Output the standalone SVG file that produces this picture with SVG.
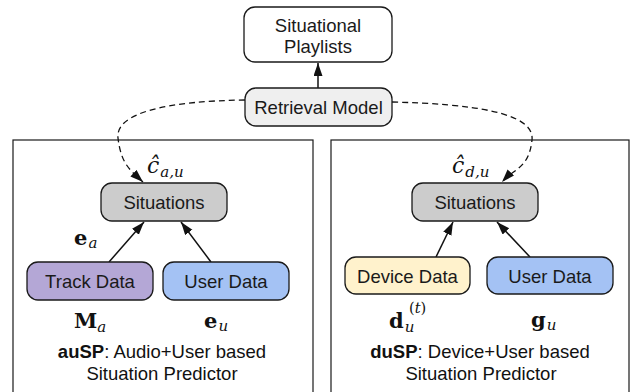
<svg xmlns="http://www.w3.org/2000/svg" width="630" height="392" viewBox="0 0 630 392">
<style>
.box{stroke:#1a1a1a;stroke-width:1.3}
.panel{fill:none;stroke:#1a1a1a;stroke-width:1.2}
.lbl{font-family:"Liberation Sans",Arial,sans-serif;font-size:18.5px;fill:#1a1a1a;text-anchor:middle}
.cap{font-family:"Liberation Sans",Arial,sans-serif;font-size:18.5px;fill:#111;text-anchor:middle}
.m{font-family:"DejaVu Serif","Liberation Serif",serif;fill:#111}
.mb{font-weight:bold;font-size:21px}
.mi{font-style:italic;font-size:22px}
.sub{font-style:italic;font-size:15px}
.sup{font-size:14.5px}
.conn{fill:none;stroke:#111;stroke-width:1.5}
.dash{fill:none;stroke:#111;stroke-width:1.3;stroke-dasharray:6 4}
</style>
<defs>
<marker id="ah" markerUnits="userSpaceOnUse" markerWidth="14" markerHeight="10" refX="13" refY="4.5" orient="auto">
<path d="M0,0 L13,4.5 L0,9 z" fill="#111"/>
</marker>
</defs>
<g id="panel-ausp">
<rect class="panel" x="13" y="140" width="300" height="260"/>
<text class="cap" x="162" y="358"><tspan font-weight="bold">auSP</tspan>: Audio+User based</text>
<text class="cap" x="162" y="380">Situation Predictor</text>
</g>
<g id="panel-dusp">
<rect class="panel" x="331" y="140" width="298" height="260"/>
<text class="cap" x="480" y="358"><tspan font-weight="bold">duSP</tspan>: Device+User based</text>
<text class="cap" x="481" y="380">Situation Predictor</text>
</g>
<g id="connectors">
<line class="conn" x1="318" y1="88" x2="318" y2="63" marker-end="url(#ah)"/>
<path class="dash" d="M245,100 C170,101 115,112 118,138 S130,170 143,182" marker-end="url(#ah)"/>
<path class="dash" d="M392,102 C470,104 535,112 532,140 S515,168 502,182" marker-end="url(#ah)"/>
<line class="conn" x1="109" y1="262" x2="144" y2="222" marker-end="url(#ah)"/>
<line class="conn" x1="211" y1="262" x2="181" y2="222" marker-end="url(#ah)"/>
<line class="conn" x1="436" y1="257" x2="453" y2="222" marker-end="url(#ah)"/>
<line class="conn" x1="530" y1="257" x2="497" y2="222" marker-end="url(#ah)"/>
</g>
<g id="playlists">
<rect class="box" x="244" y="7" width="148" height="55" rx="11" fill="#ffffff"/>
<text class="lbl" x="318" y="31.5">Situational</text>
<text class="lbl" x="318" y="53">Playlists</text>
</g>
<g id="retrieval">
<rect class="box" x="245" y="88" width="147" height="38" rx="11" fill="#efefef"/>
<text class="lbl" x="318.5" y="113.5">Retrieval Model</text>
</g>
<g id="situations-a">
<rect class="box" x="101" y="183" width="126" height="38" rx="11" fill="#cccccc"/>
<text class="lbl" x="164" y="208.5">Situations</text>
<text class="m" x="147" y="173"><tspan class="mi">ĉ</tspan><tspan class="sub" dy="4" dx="1">a,u</tspan></text>
</g>
<g id="track-data">
<rect class="box" x="27" y="262" width="126" height="38" rx="11" fill="#b4a7d6"/>
<text class="lbl" x="90" y="287.5">Track Data</text>
<text class="m" x="74" y="245"><tspan class="mb">e</tspan><tspan class="sub" dy="3" dx="1">a</tspan></text>
<text class="m" x="74" y="328"><tspan class="mb">M</tspan><tspan class="sub" dy="4">a</tspan></text>
</g>
<g id="user-data-a">
<rect class="box" x="163" y="262" width="126" height="38" rx="11" fill="#a4c2f4"/>
<text class="lbl" x="226" y="287.5">User Data</text>
<text class="m" x="204" y="328"><tspan class="mb">e</tspan><tspan class="sub" dy="3" dx="1">u</tspan></text>
</g>
<g id="situations-d">
<rect class="box" x="412" y="183" width="126" height="38" rx="11" fill="#cccccc"/>
<text class="lbl" x="475" y="208.5">Situations</text>
<text class="m" x="452" y="173"><tspan class="mi">ĉ</tspan><tspan class="sub" dy="4" dx="1">d,u</tspan></text>
</g>
<g id="device-data">
<rect class="box" x="345" y="257" width="125" height="37" rx="11" fill="#fff2cc"/>
<text class="lbl" x="407.5" y="282.5">Device Data</text>
<text class="m" x="389" y="328"><tspan class="mb">d</tspan><tspan class="sub" dy="4" dx="1">u</tspan></text>
<text class="m sup" x="409" y="313">(<tspan font-style="italic">t</tspan>)</text>
</g>
<g id="user-data-d">
<rect class="box" x="487" y="257" width="126" height="37" rx="11" fill="#a4c2f4"/>
<text class="lbl" x="550" y="282.5">User Data</text>
<text class="m" x="531" y="327"><tspan class="mb">g</tspan><tspan class="sub" dy="3" dx="1">u</tspan></text>
</g>
</svg>
